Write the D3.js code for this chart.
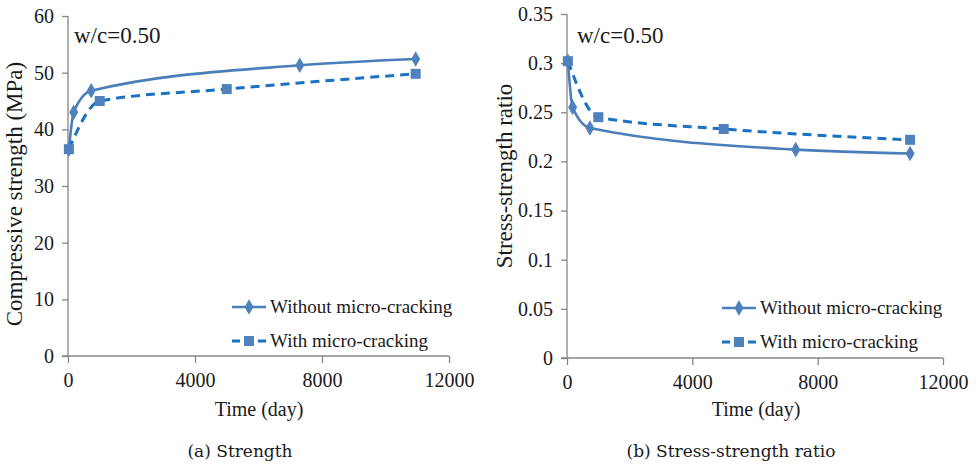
<!DOCTYPE html>
<html>
<head>
<meta charset="utf-8">
<script src="https://cdn.jsdelivr.net/npm/d3@7"></script>
<style>
  body { margin: 0; background: #fff; }
  text { font-family: "Liberation Serif", "Times New Roman", serif; fill: #1a1a1a; }
  .caption { font-family: "DejaVu Serif", serif; }
</style>
</head>
<body>
<svg id="fig" width="978" height="466"></svg>
<script>
// data
var daysWithout = [28, 180, 730, 7300, 10950];
var daysWith = [28, 1000, 5000, 10950];

var strengthWithout = [36.5, 43.0, 46.8, 51.3, 52.4];
var strengthWith = [36.5, 45.0, 47.1, 49.8];

var ratioWithout = [0.302, 0.255, 0.234, 0.212, 0.208];
var ratioWith = [0.302, 0.245, 0.233, 0.222];

var xTicks = [0, 4000, 8000, 12000];
var strengthTicks = [0, 10, 20, 30, 40, 50, 60];
var ratioTicks = [0, 0.05, 0.1, 0.15, 0.2, 0.25, 0.3, 0.35];

var seriesNames = ["Without micro-cracking", "With micro-cracking"];

var solidColor = "#4a7ebb";
var dashColor = "#1a72c0";
var markerColor = "#4f81bd";
var axisColor = "#868686";

var svg = d3.select("#fig");

function drawPanel(opt) {
    var g = svg.append("g");

    var x = d3.scaleLinear().domain([0, 12000]).range([opt.left, opt.right]);
    var y = d3.scaleLinear().domain([0, opt.yMax]).range([opt.bottom, opt.top]);

    // y axis
    var yAxis = d3.axisLeft(y).tickValues(opt.yTicks).tickSize(6).tickPadding(8)
        .tickFormat(d => String(d));
    var ya = g.append("g").attr("transform", `translate(${opt.left},0)`).call(yAxis);
    ya.select(".domain").remove();
    ya.append("line").attr("x1", 0).attr("x2", 0).attr("y1", opt.top).attr("y2", opt.bottom);
    ya.selectAll("line").attr("stroke", axisColor).attr("stroke-width", 1.3);
    ya.selectAll("text").style("font-size", "20px").style("font-family", "Liberation Serif").attr("fill", "#1a1a1a");

    // x axis
    var xAxis = d3.axisBottom(x).tickValues(xTicks).tickSize(7).tickPadding(10)
        .tickFormat(d => String(d));
    var xa = g.append("g").attr("transform", `translate(0,${opt.bottom})`).call(xAxis);
    xa.select(".domain").remove();
    xa.append("line").attr("x1", opt.left - 6).attr("x2", opt.right).attr("y1", 0).attr("y2", 0);
    xa.selectAll("line").attr("stroke", axisColor).attr("stroke-width", 1.3);
    xa.selectAll("text").style("font-size", "20px").style("font-family", "Liberation Serif").attr("fill", "#1a1a1a");

    // axis titles
    g.append("text")
        .attr("transform", `translate(${opt.yTitleX},${(opt.top + opt.bottom) / 2 + opt.yTitleShift}) rotate(-90)`)
        .attr("text-anchor", "middle")
        .style("font-size", "23px")
        .text(opt.yTitle);

    g.append("text")
        .attr("x", opt.xTitleX).attr("y", 416)
        .attr("text-anchor", "middle")
        .style("font-size", "20px")
        .text("Time (day)");

    g.append("text")
        .attr("x", opt.left + opt.wcShift).attr("y", 43)
        .style("font-size", "23px")
        .text("w/c=0.50");

    // lines
    var line = d3.line().x(d => x(d[0])).y(d => y(d[1])).curve(d3.curveMonotoneX);
    var s1 = d3.zip(daysWithout, opt.without);
    var s2 = d3.zip(daysWith, opt.with);

    g.append("path").datum(s1).attr("d", line)
        .attr("fill", "none").attr("stroke", solidColor).attr("stroke-width", 2.6);
    g.selectAll(".dia").data(s1).enter().append("path")
        .attr("d", d3.symbol().type(d3.symbolDiamond).size(70))
        .attr("transform", d => `translate(${x(d[0])},${y(d[1])})`)
        .attr("fill", markerColor);

    g.append("path").datum(s2).attr("d", line)
        .attr("fill", "none").attr("stroke", dashColor).attr("stroke-width", 3)
        .attr("stroke-dasharray", "9,6");
    g.selectAll(".sq").data(s2).enter().append("rect")
        .attr("x", d => x(d[0]) - 5).attr("y", d => y(d[1]) - 5)
        .attr("width", 10).attr("height", 10)
        .attr("fill", markerColor);

    // legend
    var lg = g.append("g").attr("transform", `translate(${opt.legX},${opt.legY})`);
    lg.append("line").attr("x1", 0).attr("x2", 34).attr("y1", 0).attr("y2", 0)
        .attr("stroke", solidColor).attr("stroke-width", 2.6);
    lg.append("path").attr("d", d3.symbol().type(d3.symbolDiamond).size(70))
        .attr("transform", "translate(17,0)").attr("fill", markerColor);
    lg.append("text").attr("x", 38).attr("y", 6).style("font-size", "19px").text(seriesNames[0]);

    lg.append("line").attr("x1", 0).attr("x2", 34).attr("y1", 34).attr("y2", 34)
        .attr("stroke", dashColor).attr("stroke-width", 3).attr("stroke-dasharray", "8,5");
    lg.append("rect").attr("x", 12).attr("y", 29).attr("width", 10).attr("height", 10)
        .attr("fill", markerColor);
    lg.append("text").attr("x", 38).attr("y", 40).style("font-size", "19px").text(seriesNames[1]);

    // caption
    g.append("text").attr("class", "caption")
        .attr("x", opt.capX).attr("y", 457)
        .attr("text-anchor", "middle")
        .style("font-size", "17px")
        .text(opt.caption);
}

drawPanel({
    left: 68, right: 449, top: 16, bottom: 356, yMax: 60,
    yTicks: strengthTicks, without: strengthWithout, with: strengthWith,
    yTitle: "Compressive strength (MPa)", yTitleX: 22, yTitleShift: 8,
    xTitleX: 259, legX: 232, legY: 307, capX: 240, caption: "(a) Strength", wcShift: 6
});

drawPanel({
    left: 567, right: 943, top: 14, bottom: 358, yMax: 0.35,
    yTicks: ratioTicks, without: ratioWithout, with: ratioWith,
    yTitle: "Stress-strength ratio", yTitleX: 512, yTitleShift: -10,
    xTitleX: 756, legX: 722, legY: 308, capX: 731, caption: "(b) Stress-strength ratio", wcShift: 10
});
</script>
</body>
</html>
